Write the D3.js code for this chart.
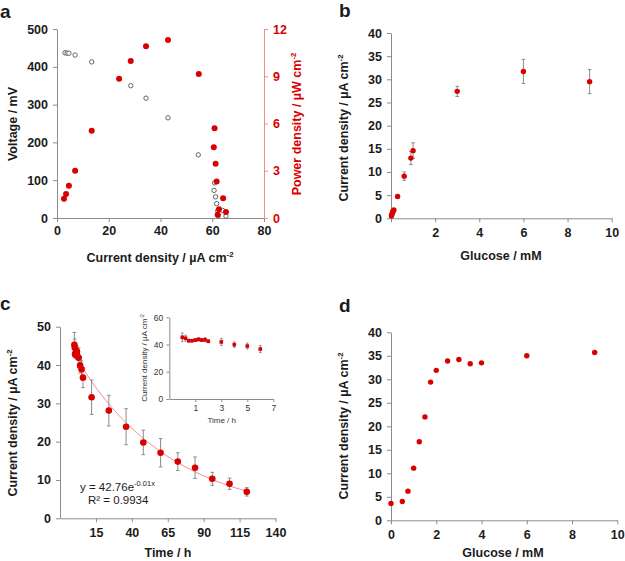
<!DOCTYPE html>
<html><head><meta charset="utf-8">
<script src="https://cdn.jsdelivr.net/npm/d3@7"></script>
<style>
body{margin:0;background:#fff}
text{font-family:Arial,"Liberation Sans",sans-serif}
</style></head><body>
<svg id="fig" width="625" height="561"></svg>
<script>
// panel a: polarisation (open circles) and power (red dots)
var aCurrentV = [3.1,3.9,4.6,7.0,13.4,28.5,34.4,42.9,54.6,60.9,60.7,61.3,61.7,62.1,62.3,64.0,65.3];
var aVoltage  = [437,436,436,431,413,350,317,265,167,93,73,56,38,19,6,20,5];
var aCurrentP = [2.7,3.5,4.6,7.0,13.4,24.0,28.5,34.4,42.9,54.8,60.9,60.6,61.3,61.7,64.2,62.6,62.1,65.3];
var aPower    = [1.23,1.52,2.05,3.0,5.54,8.84,9.97,10.9,11.3,9.14,5.7,4.49,3.45,2.31,1.25,0.55,0.21,0.38];

// panel b: calibration with error bars
var bGlucose = [0.02,0.04,0.06,0.08,0.1,0.13,0.3,0.6,0.9,1.0,3,6,9];
var bCurrent = [0.5,0.8,1.1,1.4,1.6,1.8,4.7,9.1,13.0,14.6,27.4,31.7,29.5];
var bErr     = [0.2,0.2,0.2,0.2,0.2,0.2,0.4,0.9,1.4,1.7,1.1,2.6,2.6];

// panel c: stability over time (inset = first 6 h)
var cTime    = [0,0.25,0.5,0.75,1,1.25,1.5,1.75,2,3,4,5,6,12,24,36,48,60,72,84,96,108,120];
var cCurrent = [45.3,44.6,42.8,42.8,43.3,43.8,43.3,43.5,42.4,41.9,39.9,38.9,36.7,31.6,28.1,23.9,19.8,17.1,14.8,13.2,10.3,9.0,6.9];
var cErr     = [3.2,2.2,1.0,0.8,0.8,1.2,1.0,1.5,1.0,2.6,2.0,2.2,2.6,4.5,4.0,4.7,3.2,3.7,2.3,2.8,1.7,1.5,1.1];
var fitA = 42.76, fitK = 0.015;
var insetCount = 13;

// panel d
var dGlucose = [0,0.5,0.75,1,1.25,1.5,1.75,2,2.5,3,3.5,4,6,9];
var dCurrent = [3.6,4.0,6.2,11.1,16.7,22.0,29.4,31.9,33.9,34.2,33.3,33.5,35.0,35.7];

var red = "#d90000", grey = "#8c8c8c", ink = "#1b1b1b";
var svg = d3.select("#fig");

function styleAxis(g, col, txtCol, size, weight) {
  g.select(".domain").attr("stroke", col);
  g.selectAll(".tick line").attr("stroke", col);
  g.selectAll(".tick text").attr("fill", txtCol).style("font-size", size + "px")
    .style("font-weight", weight);
  return g;
}

function unitTitle(sel, label, size) {
  sel.append("tspan").text(label + " / µA cm");
  sel.append("tspan").text("-2").style("font-size", (size * 0.62) + "px").attr("dy", -size * 0.4);
}

function yTitle(x, y, size, col, weight) {
  return svg.append("text").attr("transform", "translate(" + x + "," + y + ") rotate(-90)")
    .attr("text-anchor", "middle").style("font-size", size + "px").style("font-weight", weight)
    .attr("fill", col);
}

function letter(t, x, y) {
  svg.append("text").attr("x", x).attr("y", y).text(t)
    .style("font-size", "19px").style("font-weight", "bold").attr("fill", ink);
}

function errorBars(g, xs, ys, es, x, y, cap) {
  g.selectAll(null).data(xs).enter().append("path")
    .attr("d", function(d, i) {
      var px = x(d), t = y(ys[i] + es[i]), b = y(ys[i] - es[i]);
      return "M" + (px - cap) + "," + t + "H" + (px + cap) + "M" + px + "," + t + "V" + b +
        "M" + (px - cap) + "," + b + "H" + (px + cap);
    })
    .attr("stroke", grey).attr("stroke-width", 1).attr("fill", "none");
}

// ---------- a ----------
var ax = d3.scaleLinear().domain([0, 80]).range([57, 264]);
var ayL = d3.scaleLinear().domain([0, 500]).range([218, 29]);
var ayR = d3.scaleLinear().domain([0, 12]).range([218, 29]);

styleAxis(svg.append("g").attr("transform", "translate(0,218)")
  .call(d3.axisBottom(ax).tickValues([0,20,40,60,80]).tickSize(4).tickSizeOuter(0).tickPadding(4)),
  grey, ink, 12.5, "bold");
styleAxis(svg.append("g").attr("transform", "translate(57,0)")
  .call(d3.axisLeft(ayL).tickValues([0,100,200,300,400,500]).tickSize(4).tickSizeOuter(0).tickPadding(5)),
  grey, ink, 12.5, "bold");
styleAxis(svg.append("g").attr("transform", "translate(264,0)")
  .call(d3.axisRight(ayR).tickValues([0,3,6,9,12]).tickSize(4).tickSizeOuter(0).tickPadding(5)),
  "#ef8c8c", red, 12.5, "bold");

var ga = svg.append("g");
ga.selectAll(null).data(aCurrentV).enter().append("circle")
  .attr("cx", function(d) { return ax(d); })
  .attr("cy", function(d, i) { return ayL(aVoltage[i]); })
  .attr("r", 2.2).attr("fill", "#fff").attr("stroke", "#555").attr("stroke-width", 0.9);
ga.selectAll(null).data(aCurrentP).enter().append("circle")
  .attr("cx", function(d) { return ax(d); })
  .attr("cy", function(d, i) { return ayR(aPower[i]); })
  .attr("r", 3).attr("fill", red);

svg.append("text").attr("x", 160).attr("y", 262).attr("text-anchor", "middle")
  .style("font-size", "12.5px").style("font-weight", "bold").attr("fill", ink)
  .call(unitTitle, "Current density", 12.5);
yTitle(17, 124, 12.5, ink, "bold").text("Voltage / mV");
var pt = yTitle(301, 124, 12.5, red, "bold");
pt.append("tspan").text("Power density / µW cm");
pt.append("tspan").text("-2").style("font-size", "7.8px").attr("dy", -5);
letter("a", 0, 18);

// ---------- b ----------
var bx = d3.scaleLinear().domain([0, 10]).range([391, 611.7]);
var by = d3.scaleLinear().domain([0, 40]).range([218.3, 33]);
styleAxis(svg.append("g").attr("transform", "translate(0,218.3)")
  .call(d3.axisBottom(bx).tickValues([0,2,4,6,8,10]).tickFormat(function(d) { return d === 0 ? "" : d; })
    .tickSize(4).tickSizeOuter(0).tickPadding(6)),
  grey, ink, 12.5, "bold");
styleAxis(svg.append("g").attr("transform", "translate(391,0)")
  .call(d3.axisLeft(by).tickValues(d3.range(0, 41, 5)).tickSize(4).tickSizeOuter(0).tickPadding(5)),
  grey, ink, 12.5, "bold");
var gb = svg.append("g");
errorBars(gb, bGlucose, bCurrent, bErr, bx, by, 1.8);
gb.selectAll(null).data(bGlucose).enter().append("circle")
  .attr("cx", function(d) { return bx(d); })
  .attr("cy", function(d, i) { return by(bCurrent[i]); })
  .attr("r", 2.7).attr("fill", red);
svg.append("text").attr("x", 501).attr("y", 260).attr("text-anchor", "middle")
  .style("font-size", "12.5px").style("font-weight", "bold").attr("fill", ink).text("Glucose / mM");
yTitle(348, 128, 12.5, ink, "bold").call(unitTitle, "Current density", 12.5);
letter("b", 339, 17);

// ---------- c ----------
var cx = d3.scaleLinear().domain([-10, 140]).range([60, 275.5]);
var cy = d3.scaleLinear().domain([0, 50]).range([518.3, 326.7]);
styleAxis(svg.append("g").attr("transform", "translate(0,518.3)")
  .call(d3.axisBottom(cx).tickValues([15,40,65,90,115,140]).tickSize(4).tickSizeOuter(0).tickPadding(6)),
  grey, ink, 12.5, "bold");
styleAxis(svg.append("g").attr("transform", "translate(60,0)")
  .call(d3.axisLeft(cy).tickValues([0,10,20,30,40,50]).tickSize(4).tickSizeOuter(0).tickPadding(5)),
  grey, ink, 12.5, "bold");
var gc = svg.append("g");
var fitPts = d3.range(0, 120.5, 1).map(function(t) { return [t, fitA * Math.exp(-fitK * t)]; });
gc.append("path").datum(fitPts)
  .attr("d", d3.line().x(function(d) { return cx(d[0]); }).y(function(d) { return cy(d[1]); }))
  .attr("fill", "none").attr("stroke", "#ef7b7b").attr("stroke-width", 0.9);
errorBars(gc, cTime, cCurrent, cErr, cx, cy, 1.8);
gc.selectAll(null).data(cTime).enter().append("circle")
  .attr("cx", function(d) { return cx(d); })
  .attr("cy", function(d, i) { return cy(cCurrent[i]); })
  .attr("r", 3.3).attr("fill", red);
var eq = svg.append("text").attr("x", 80).attr("y", 491)
  .style("font-size", "11.5px").attr("fill", ink);
eq.append("tspan").text("y = 42.76e");
eq.append("tspan").text("-0.01x").style("font-size", "7.5px").attr("dy", -5);
svg.append("text").attr("x", 88).attr("y", 504).style("font-size", "11.5px").attr("fill", ink)
  .text("R² = 0.9934");
svg.append("text").attr("x", 168).attr("y", 557).attr("text-anchor", "middle")
  .style("font-size", "12.5px").style("font-weight", "bold").attr("fill", ink).text("Time / h");
yTitle(17, 423, 12.5, ink, "bold").call(unitTitle, "Current density", 12.5);
letter("c", 0, 310);

// inset
var ix = d3.scaleLinear().domain([-1, 7]).range([169.3, 273.3]);
var iy = d3.scaleLinear().domain([0, 60]).range([399, 317.3]);
styleAxis(svg.append("g").attr("transform", "translate(0,399)")
  .call(d3.axisBottom(ix).tickValues([1,3,5,7]).tickSize(3).tickSizeOuter(0).tickPadding(3)),
  grey, "#333", 8.5, "normal");
styleAxis(svg.append("g").attr("transform", "translate(169.3,0)")
  .call(d3.axisLeft(iy).tickValues([0,20,40,60]).tickSize(3).tickSizeOuter(0).tickPadding(3)),
  grey, "#333", 8.5, "normal");
var gi = svg.append("g");
var iT = cTime.slice(0, insetCount), iC = cCurrent.slice(0, insetCount), iE = cErr.slice(0, insetCount);
errorBars(gi, iT, iC, iE, ix, iy, 1.2);
gi.selectAll(null).data(iT).enter().append("rect")
  .attr("x", function(d) { return ix(d) - 1.8; })
  .attr("y", function(d, i) { return iy(iC[i]) - 1.8; })
  .attr("width", 3.6).attr("height", 3.6).attr("fill", red);
svg.append("text").attr("x", 221.7).attr("y", 423).attr("text-anchor", "middle")
  .style("font-size", "8px").attr("fill", "#333").text("Time / h");
yTitle(147, 358, 8, "#333", "normal").call(unitTitle, "Current density", 8);

// ---------- d ----------
var dx = d3.scaleLinear().domain([0, 10]).range([391, 617.3]);
var dy = d3.scaleLinear().domain([0, 40]).range([520.3, 332.3]);
styleAxis(svg.append("g").attr("transform", "translate(0,520.3)")
  .call(d3.axisBottom(dx).tickValues([0,2,4,6,8,10]).tickSize(4).tickSizeOuter(0).tickPadding(6)),
  grey, ink, 12.5, "bold");
styleAxis(svg.append("g").attr("transform", "translate(391,0)")
  .call(d3.axisLeft(dy).tickValues(d3.range(0, 41, 5)).tickSize(4).tickSizeOuter(0).tickPadding(5)),
  grey, ink, 12.5, "bold");
svg.append("g").selectAll(null).data(dGlucose).enter().append("circle")
  .attr("cx", function(d) { return dx(d); })
  .attr("cy", function(d, i) { return dy(dCurrent[i]); })
  .attr("r", 2.7).attr("fill", red);
svg.append("text").attr("x", 503).attr("y", 557).attr("text-anchor", "middle")
  .style("font-size", "12.5px").style("font-weight", "bold").attr("fill", ink).text("Glucose / mM");
yTitle(348, 426, 12.5, ink, "bold").call(unitTitle, "Current density", 12.5);
letter("d", 339, 312);
</script>
</body></html>
